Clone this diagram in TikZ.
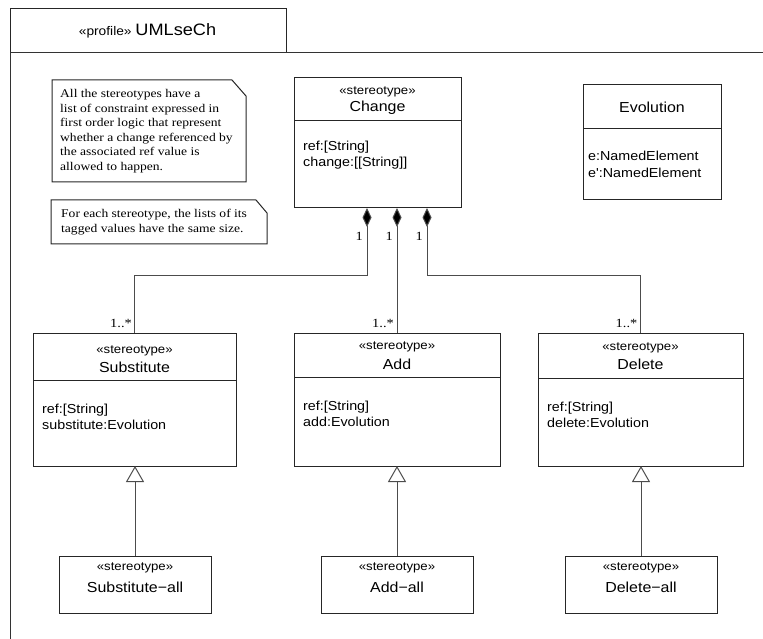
\documentclass[tikz,border=0pt]{standalone}
\usepackage{fontspec}
\setmainfont{Liberation Serif}[FakeStretch=1.15]
\newfontfamily\umlsans{Liberation Sans}[FakeStretch=1.1]
\usetikzlibrary{arrows.meta}

\tikzset{
  frameline/.style={draw=black!80, line width=1pt},
  umlbox/.style={draw=black!85, line width=1pt, rectangle, inner sep=0pt, outer sep=0pt},
  notebox/.style={rectangle, inner sep=0pt, outer sep=0pt},
  noteline/.style={draw=black!85, line width=1pt, line join=miter},
  divider/.style={draw=black!85, line width=1pt},
  stereo/.style={font=\umlsans\fontsize{12}{14}\selectfont, inner sep=0pt},
  cname/.style={font=\umlsans\fontsize{14.5}{17}\selectfont, inner sep=0pt},
  attrs/.style={font=\umlsans\fontsize{13}{16.5}\selectfont, align=left, anchor=west, inner sep=0pt},
  notetext/.style={font=\fontsize{11.8}{14.5}\selectfont, align=left, anchor=west, inner sep=0pt},
  mult/.style={font=\fontsize{12.5}{14}\selectfont, inner sep=0pt, anchor=east},
  comp/.style={draw=black!70, line width=1pt, -{Diamond[length=19pt,width=9pt,fill=black,line width=1pt]}},
  gen/.style={draw=black!70, line width=1pt, -{Triangle[open,length=16pt,width=18pt,fill=white,line width=1pt]}},
}

\begin{document}
\begin{tikzpicture}[x=1pt,y=-1pt]
\useasboundingbox (0,0) rectangle (763,639);

% package frame with its name tab
\node[umlbox, minimum width=276pt, minimum height=44pt] (tab) at (148,31) {};
\node[inner sep=0pt] (tabtext) at (147.5,31)
  {\umlsans\fontsize{12.5}{15}\selectfont «profile»\ \fontsize{16.5}{19}\selectfont UMLseCh};
\coordinate (frametop) at (763,53);
\coordinate (framebottom) at (10,639);
\draw[frameline] (framebottom) |- (frametop);

% comment notes
\node[notebox, minimum width=194pt, minimum height=102pt] (note1) at (149,131) {};
\draw[noteline] (note1.north west) -- ([xshift=-14pt]note1.north east)
  -- ([yshift=-16pt]note1.north east) -- (note1.south east) -- (note1.south west) -- cycle;
\node[notetext] (note1text) at (60,131)
  {All the stereotypes have a\\list of constraint expressed in\\first order logic that represent\\whether a change referenced by\\the associated ref value is\\allowed to happen.};

\node[notebox, minimum width=216pt, minimum height=44pt] (note2) at (159,222) {};
\draw[noteline] (note2.north west) -- ([xshift=-11pt]note2.north east)
  -- ([yshift=-13pt]note2.north east) -- (note2.south east) -- (note2.south west) -- cycle;
\node[notetext] (note2text) at (61,222)
  {For each stereotype, the lists of its\\tagged values have the same size.};

% Change
\node[umlbox, minimum width=167pt, minimum height=130pt] (chg) at (377.5,143) {};
\draw[divider] ([yshift=-43pt]chg.north west) -- ([yshift=-43pt]chg.north east);
\node[stereo] (chgst) at (377.5,92) {«stereotype»};
\node[cname] (chgname) at (377.5,108) {Change};
\node[attrs] (chgattr) at (303,155) {ref:[String]\\change:[[String]]};

% Evolution
\node[umlbox, minimum width=138pt, minimum height=115pt] (evo) at (652,142.5) {};
\draw[divider] ([yshift=-44pt]evo.north west) -- ([yshift=-44pt]evo.north east);
\node[cname] (evoname) at (652,107) {Evolution};
\node[attrs] (evoattr) at (588,164.5) {e:NamedElement\\e':NamedElement};

% Substitute
\node[umlbox, minimum width=203pt, minimum height=133pt] (sub) at (134.5,399.5) {};
\draw[divider] ([yshift=-47pt]sub.north west) -- ([yshift=-47pt]sub.north east);
\node[stereo] (subst) at (134.5,351) {«stereotype»};
\node[cname] (subname) at (134.5,367.5) {Substitute};
\node[attrs] (subattr) at (42,417) {ref:[String]\\substitute:Evolution};

% Add
\node[umlbox, minimum width=206pt, minimum height=133pt] (add) at (397,399.5) {};
\draw[divider] ([yshift=-44pt]add.north west) -- ([yshift=-44pt]add.north east);
\node[stereo] (addst) at (397,347) {«stereotype»};
\node[cname] (addname) at (397,364) {Add};
\node[attrs] (addattr) at (303,414) {ref:[String]\\add:Evolution};

% Delete
\node[umlbox, minimum width=205pt, minimum height=133pt] (del) at (640.5,399.5) {};
\draw[divider] ([yshift=-45pt]del.north west) -- ([yshift=-45pt]del.north east);
\node[stereo] (delst) at (640.5,348) {«stereotype»};
\node[cname] (delname) at (640.5,364.5) {Delete};
\node[attrs] (delattr) at (547,415) {ref:[String]\\delete:Evolution};

% the "-all" stereotypes
\node[umlbox, minimum width=152pt, minimum height=57pt] (suball) at (135,584.5) {};
\node[stereo] (suballst) at (135,568) {«stereotype»};
\node[cname] (suballname) at (135,587) {Substitute−all};

\node[umlbox, minimum width=152pt, minimum height=57pt] (addall) at (397,584.5) {};
\node[stereo] (addallst) at (397,568) {«stereotype»};
\node[cname] (addallname) at (397,587) {Add−all};

\node[umlbox, minimum width=152pt, minimum height=57pt] (delall) at (641,584.5) {};
\node[stereo] (delallst) at (641,568) {«stereotype»};
\node[cname] (delallname) at (641,587) {Delete−all};

% compositions from Change
\draw[comp] (sub.north) -- ++(0,-58) -| ([xshift=-10.5pt]chg.south);
\draw[comp] (add.north) -- (add.north |- chg.south);
\draw[comp] (del.north) -- ++(0,-58) -| ([xshift=49.5pt]chg.south);

\node[mult] (m1) at (363,236) {1};
\node[mult] (m2) at (393,236) {1};
\node[mult] (m3) at (423,236) {1};
\node[mult] (m4) at (132,323) {1..*};
\node[mult] (m5) at (394,323) {1..*};
\node[mult] (m6) at (637.5,323) {1..*};

% generalizations
\draw[gen] (suball.north) -- (suball.north |- sub.south);
\draw[gen] (addall.north) -- (addall.north |- add.south);
\draw[gen] (delall.north) -- (delall.north |- del.south);
\end{tikzpicture}
\end{document}
